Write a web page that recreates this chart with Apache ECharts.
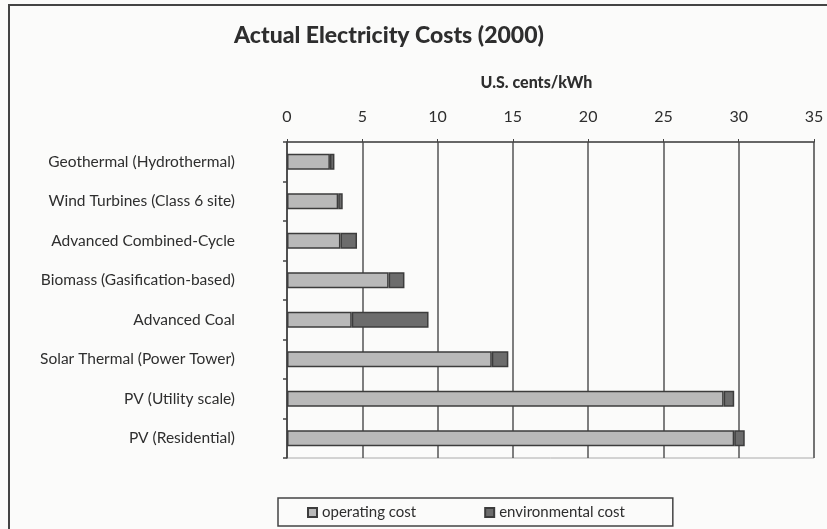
<!DOCTYPE html>
<html>
<head>
<meta charset="utf-8">
<script src="https://cdn.jsdelivr.net/npm/echarts@6/dist/echarts.min.js"></script>
<style>
html,body{margin:0;padding:0;background:#fbfbfa;}
#c{width:827px;height:529px;}
</style>
</head>
<body>
<div id="c"></div>
<script>
var categories = ['Geothermal (Hydrothermal)','Wind Turbines (Class 6 site)','Advanced Combined-Cycle','Biomass (Gasification-based)','Advanced Coal','Solar Thermal (Power Tower)','PV (Utility scale)','PV (Residential)'];
var operatingCost = [2.85, 3.4, 3.55, 6.75, 4.3, 13.6, 29.0, 29.7];
var environmentalCost = [0.3, 0.3, 1.1, 1.05, 5.1, 1.1, 0.7, 0.7];
var seriesNames = ['operating cost', 'environmental cost'];
var titleText = 'Actual Electricity Costs (2000)';
var axisName = 'U.S. cents/kWh';

var font = 'Lato, "Open Sans", sans-serif';
var chart = echarts.init(document.getElementById('c'));
chart.setOption({
  backgroundColor: '#fbfbfa',
  animation: false,
  title: {
    text: titleText, left: 229, top: 19,
    textStyle: {fontFamily: font, fontWeight: 900, fontSize: 23, color: '#2e2e2e'}
  },
  graphic: [{
    type: 'rect', shape: {x: 9, y: 5, width: 840, height: 560},
    style: {fill: 'none', stroke: '#444', lineWidth: 2}, silent: true, z: -1
  }],
  legend: {
    left: 278, top: 498,
    padding: [7, 48, 6, 29],
    borderColor: '#444', borderWidth: 1.5, borderRadius: 0,
    itemWidth: 9, itemHeight: 9, itemGap: 68,
    icon: 'rect',
    textStyle: {fontFamily: font, fontSize: 15, color: '#2e2e2e'}
  },
  grid: {
    left: 287, right: 13, top: 142, bottom: 71,
    show: true, borderColor: '#aaa', borderWidth: 1, backgroundColor: 'transparent'
  },
  xAxis: {
    type: 'value', position: 'top', min: 0, max: 35, interval: 5,
    name: axisName, nameLocation: 'middle', nameGap: 51,
    nameTextStyle: {fontFamily: font, fontWeight: 900, fontSize: 16, color: '#2e2e2e', padding: [0, 28, 0, 0]},
    axisLine: {show: true, lineStyle: {color: '#444', width: 1.5}},
    axisTick: {show: true, length: 3, lineStyle: {color: '#444'}},
    axisLabel: {fontFamily: font, fontSize: 16, color: '#2e2e2e', margin: 17},
    splitLine: {show: true, lineStyle: {color: '#555', width: 1.5}}
  },
  yAxis: {
    type: 'category', data: categories, inverse: true,
    axisLine: {show: true, lineStyle: {color: '#444', width: 1.5}},
    axisTick: {show: true, length: 4, lineStyle: {color: '#444', width: 1.5}},
    axisLabel: {fontFamily: font, fontSize: 15.5, color: '#2e2e2e', margin: 52}
  },
  series: [{
    name: seriesNames[0], type: 'bar', stack: 'total', data: operatingCost, barWidth: 16,
    itemStyle: {color: '#b9b9b9', borderColor: '#3c3c3c', borderWidth: 1.5}
  }, {
    name: seriesNames[1], type: 'bar', stack: 'total', data: environmentalCost, barWidth: 16,
    itemStyle: {color: '#6c6c6c', borderColor: '#3c3c3c', borderWidth: 1.5}
  }]
});
</script>
</body>
</html>
